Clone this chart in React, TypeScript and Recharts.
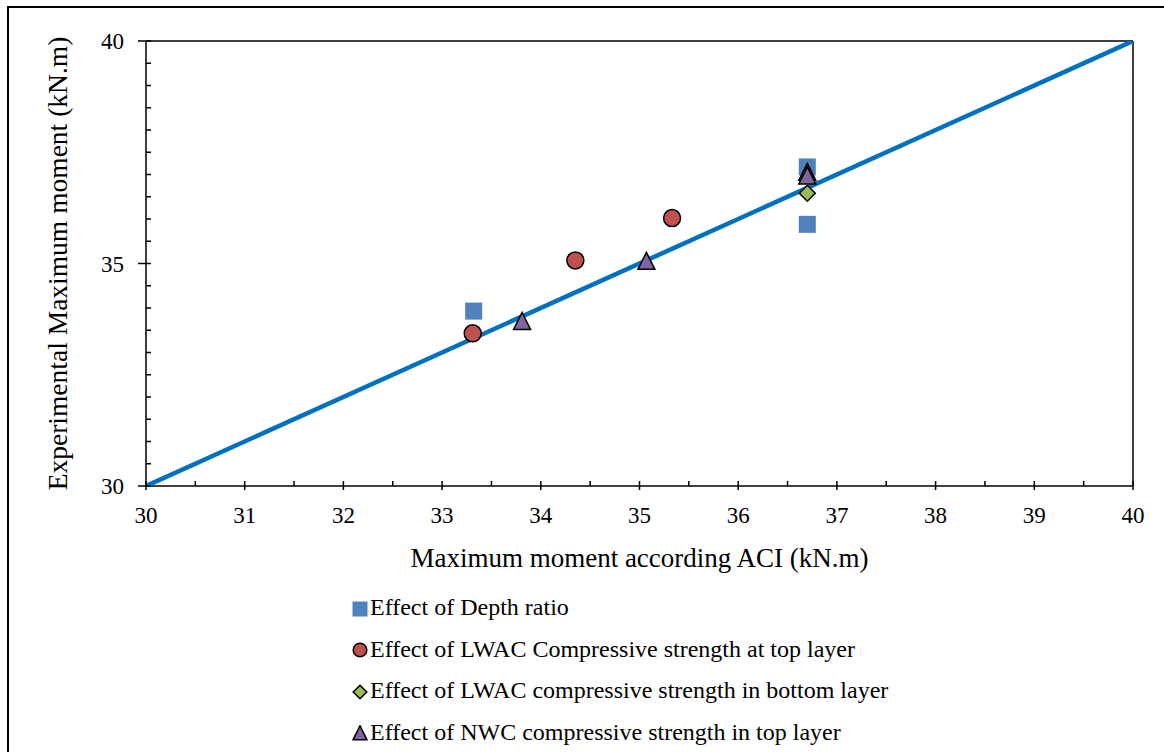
import React from 'react';
import { ScatterChart, Scatter, XAxis, YAxis, ReferenceLine, Legend } from 'recharts';

// values (kN.m)
const depthRatio = [
  { x: 33.32, y: 33.93 },
  { x: 36.70, y: 37.17 },
  { x: 36.70, y: 35.88 },
];
const lwacTop = [
  { x: 33.31, y: 33.43 },
  { x: 34.35, y: 35.07 },
  { x: 35.33, y: 36.02 },
];
const lwacBottom = [{ x: 36.70, y: 36.58 }];
const nwcTop = [
  { x: 33.81, y: 33.69 },
  { x: 35.07, y: 35.04 },
  { x: 36.70, y: 37.04 },
  { x: 36.70, y: 36.96 },
];
const equalityLine = [
  { x: 30, y: 30 },
  { x: 40, y: 40 },
];

const xTicks = [30, 30.5, 31, 31.5, 32, 32.5, 33, 33.5, 34, 34.5, 35, 35.5, 36, 36.5, 37, 37.5, 38, 38.5, 39, 39.5, 40];
const yTicks = [30, 30.5, 31, 31.5, 32, 32.5, 33, 33.5, 34, 34.5, 35, 35.5, 36, 36.5, 37, 37.5, 38, 38.5, 39, 39.5, 40];
const yLabelled = [30, 35, 40];

const seriesNames = [
  'Effect of Depth ratio',
  'Effect of LWAC Compressive strength at top layer',
  'Effect of LWAC compressive strength in bottom layer',
  'Effect of NWC compressive strength in top layer',
];

const FONT = '"Liberation Serif", "Times New Roman", serif';
const BLUE = '#4F81BD';
const RED = '#C0504D';
const GREEN = '#9BBB59';
const PURPLE = '#8064A2';

const Square = ({ cx, cy, s = 17 }: any) => (
  <rect x={cx - s / 2} y={cy - s / 2} width={s} height={s} fill={BLUE} />
);
const Circle = ({ cx, cy, r = 8.5 }: any) => (
  <circle cx={cx} cy={cy} r={r} fill={RED} stroke="#000" strokeWidth={1.5} />
);
const Diamond = ({ cx, cy, s = 8 }: any) => (
  <polygon points={`${cx},${cy - s} ${cx + s},${cy} ${cx},${cy + s} ${cx - s},${cy}`} fill={GREEN} stroke="#000" strokeWidth={1.5} />
);
const Triangle = ({ cx, cy, s = 17 }: any) => (
  <polygon
    points={`${cx},${cy - s * 0.55} ${cx + s / 2},${cy + s * 0.45} ${cx - s / 2},${cy + s * 0.45}`}
    fill={PURPLE}
    stroke="#000"
    strokeWidth={1.5}
  />
);

const tickText = { fontFamily: FONT, fontSize: 23, fill: '#000' };

const XTick = ({ x, y, payload }: any) => {
  const major = Number.isInteger(payload.value);
  return (
    <g>
      <line x1={x} x2={x} y1={y - 5} y2={major ? y + 4 : y} stroke="#000" strokeWidth={1.5} />
      {major && (
        <text x={x} y={y + 37} textAnchor="middle" style={tickText}>
          {payload.value}
        </text>
      )}
    </g>
  );
};

const YTick = ({ x, y, payload }: any) => {
  const major = yLabelled.includes(payload.value);
  return (
    <g>
      <line x1={major ? x - 8 : x} x2={x + 5} y1={y} y2={y} stroke="#000" strokeWidth={1.5} />
      {major && (
        <text x={x - 22} y={y + 8} textAnchor="end" style={tickText}>
          {payload.value}
        </text>
      )}
    </g>
  );
};

const legendIcons = [
  <svg width={16} height={16}><Square cx={8} cy={8} s={15} /></svg>,
  <svg width={16} height={16}><Circle cx={8} cy={8} r={6.8} /></svg>,
  <svg width={16} height={16}><Diamond cx={8} cy={8} s={6.8} /></svg>,
  <svg width={16} height={16}><Triangle cx={8} cy={8.5} s={14} /></svg>,
];

const LegendBox = () => (
  <div style={{ fontFamily: FONT, fontSize: 24, color: '#000' }}>
    {seriesNames.map((name, i) => (
      <div key={name} style={{ height: 41.5, display: 'flex', alignItems: 'center', whiteSpace: 'nowrap' }}>
        <span style={{ display: 'inline-block', width: 16, height: 16, marginRight: 2, position: 'relative', top: -4 }}>
          {legendIcons[i]}
        </span>
        <span>{name}</span>
      </div>
    ))}
  </div>
);

export default function App() {
  return (
    <div style={{ position: 'absolute', left: 0, top: 0, width: 1164, height: 752, background: '#fff' }}>
      <ScatterChart width={1164} height={752} margin={{ top: 41, right: 31, left: 0, bottom: 0 }}>
        <XAxis
          type="number"
          dataKey="x"
          domain={[30, 40]}
          ticks={xTicks}
          interval={0}
          allowDataOverflow
          height={266}
          tickSize={0}
          tickMargin={0}
          tick={(p: any) => <XTick {...p} />}
          axisLine={{ stroke: '#000', strokeWidth: 1.5 }}
          label={{
            content: ({ viewBox }: any) => (
              <text
                x={viewBox.x + viewBox.width / 2}
                y={viewBox.y + 81}
                textAnchor="middle"
                style={{ fontFamily: FONT, fontSize: 27, fill: '#000' }}
              >
                Maximum moment according ACI (kN.m)
              </text>
            ),
          }}
        />
        <YAxis
          type="number"
          dataKey="y"
          domain={[30, 40]}
          ticks={yTicks}
          interval={0}
          allowDataOverflow
          width={146}
          tickSize={0}
          tickMargin={0}
          tick={(p: any) => <YTick {...p} />}
          axisLine={{ stroke: '#000', strokeWidth: 1.5 }}
          label={{
            content: ({ viewBox }: any) => (
              <text
                transform={`translate(${viewBox.x + 67}, ${viewBox.y + viewBox.height / 2}) rotate(-90)`}
                textAnchor="middle"
                style={{ fontFamily: FONT, fontSize: 27.5, fill: '#000' }}
              >
                Experimental Maximum moment (kN.m)
              </text>
            ),
          }}
        />
        <ReferenceLine y={40} stroke="#000" strokeWidth={1.5} />
        <ReferenceLine x={40} stroke="#000" strokeWidth={1.5} />
        <Scatter
          data={equalityLine}
          line={{ stroke: '#0070C0', strokeWidth: 4.5 }}
          shape={() => <g />}
          isAnimationActive={false}
          legendType="none"
        />
        <Scatter name={seriesNames[0]} data={depthRatio} shape={(p: any) => <Square cx={p.cx} cy={p.cy} />} isAnimationActive={false} />
        <Scatter name={seriesNames[1]} data={lwacTop} shape={(p: any) => <Circle cx={p.cx} cy={p.cy} />} isAnimationActive={false} />
        <Scatter name={seriesNames[2]} data={lwacBottom} shape={(p: any) => <Diamond cx={p.cx} cy={p.cy} />} isAnimationActive={false} />
        <Scatter name={seriesNames[3]} data={nwcTop} shape={(p: any) => <Triangle cx={p.cx} cy={p.cy} />} isAnimationActive={false} />
        <Legend
          layout="vertical"
          align="center"
          verticalAlign="middle"
          content={<LegendBox />}
          wrapperStyle={{ left: 352, top: 587, width: 'auto' }}
        />
      </ScatterChart>
      <div
        style={{
          position: 'absolute',
          left: 7,
          top: 6,
          width: 1164,
          height: 752,
          borderLeft: '2px solid #000',
          borderTop: '2px solid #000',
          pointerEvents: 'none',
        }}
      />
    </div>
  );
}
